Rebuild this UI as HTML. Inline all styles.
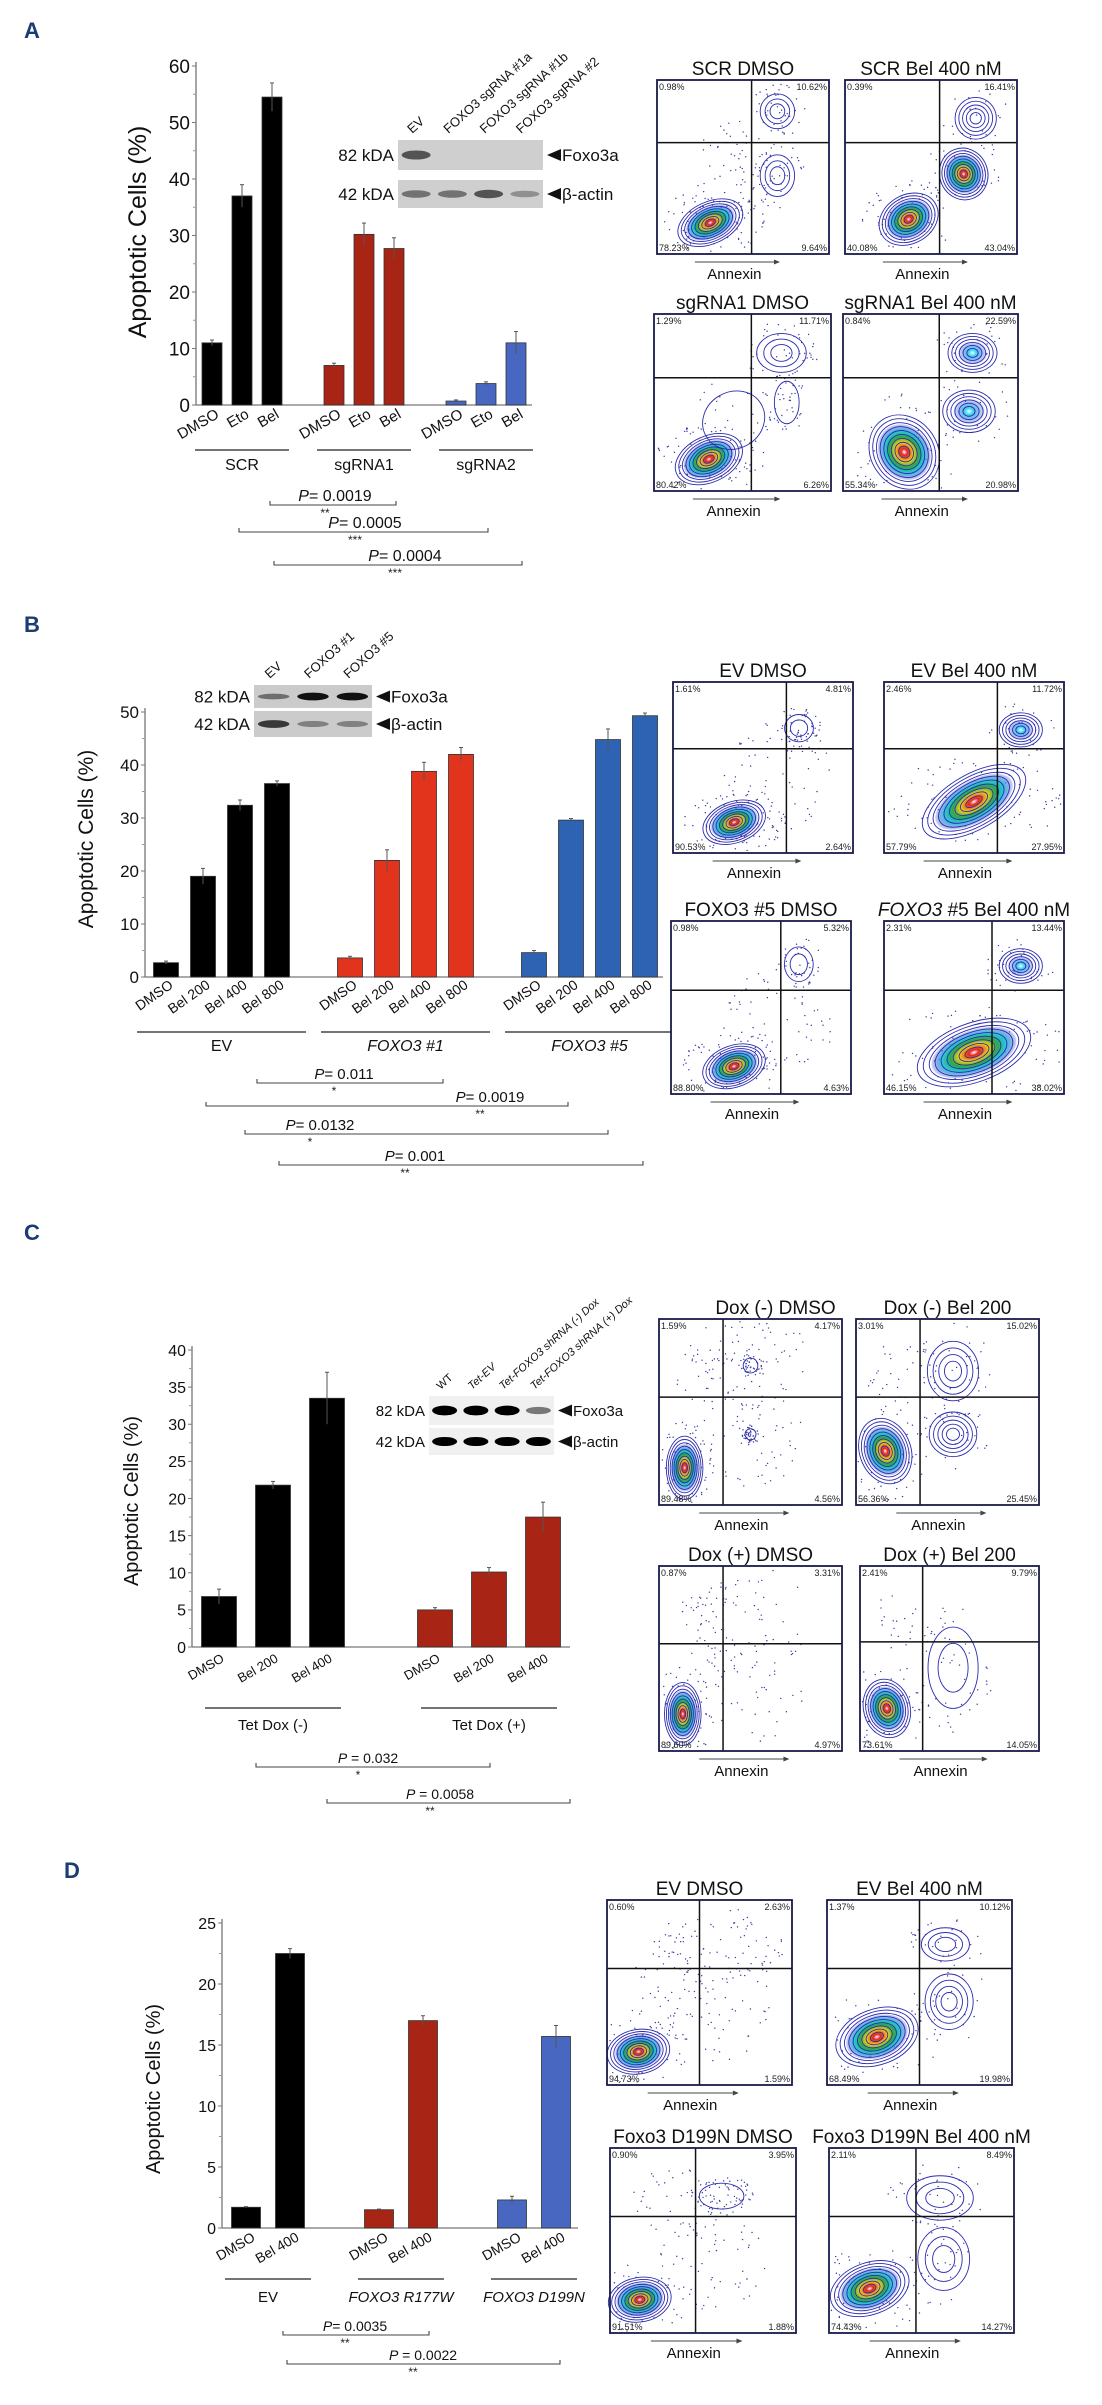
<!DOCTYPE html>
<html><head><meta charset="utf-8">
<style>
html,body{margin:0;padding:0;background:#fff;}
svg{display:block;font-family:"Liberation Sans",Arial,sans-serif;}
</style></head>
<body>
<svg id="fig" width="1102" height="2405" viewBox="0 0 1102 2405" xmlns="http://www.w3.org/2000/svg">
<defs>
<radialGradient id="heat">
<stop offset="0" stop-color="#ffffff"/>
<stop offset="0.12" stop-color="#e8201a"/>
<stop offset="0.35" stop-color="#f5d21a"/>
<stop offset="0.55" stop-color="#2aa84a"/>
<stop offset="0.75" stop-color="#2ac8e0"/>
<stop offset="1" stop-color="#3a3ad0" stop-opacity="0.2"/>
</radialGradient>
<radialGradient id="cool">
<stop offset="0" stop-color="#ffffff"/>
<stop offset="0.25" stop-color="#3ad8f0"/>
<stop offset="1" stop-color="#3a3ad0" stop-opacity="0.1"/>
</radialGradient>
</defs>
<g id="layer"></g>
</svg>
<script>
// ---------- DATA ----------
// Panel A
const aGroups = ["SCR","sgRNA1","sgRNA2"];
const aTreat = ["DMSO","Eto","Bel"];
const aVals = [[11,37,54.5],[7,30.2,27.7],[0.7,3.8,11]];
const aErrs = [[0.5,2,2.5],[0.4,2,1.9],[0.2,0.3,2]];
const aTicks = [0,10,20,30,40,50,60];
// Panel B
const bGroups = ["EV","FOXO3 #1","FOXO3 #5"];
const bTreat = ["DMSO","Bel 200","Bel 400","Bel 800"];
const bVals = [[2.7,19,32.4,36.5],[3.6,22,38.8,42],[4.6,29.6,44.8,49.3]];
const bErrs = [[0.3,1.5,1,0.5],[0.3,2,1.7,1.3],[0.4,0.3,2,0.5]];
const bTicks = [0,10,20,30,40,50];
// Panel C
const cGroups = ["Tet Dox (-)","Tet Dox (+)"];
const cTreat = ["DMSO","Bel 200","Bel 400"];
const cVals = [[6.8,21.8,33.5],[5,10.1,17.5]];
const cErrs = [[1,0.5,3.5],[0.3,0.6,2]];
const cTicks = [0,5,10,15,20,25,30,35,40];
// Panel D
const dGroups = ["EV","FOXO3 R177W","FOXO3 D199N"];
const dTreat = ["DMSO","Bel 400"];
const dVals = [[1.7,22.5],[1.5,17],[2.3,15.7]];
const dErrs = [[0.05,0.4],[0.05,0.4],[0.3,0.9]];
const dTicks = [0,5,10,15,20,25];

const NS="http://www.w3.org/2000/svg";
const layer=document.getElementById('layer');
function el(tag,attrs,parent,txt){const e=document.createElementNS(NS,tag);for(const k in attrs)e.setAttribute(k,attrs[k]);if(txt!==undefined)e.textContent=txt;(parent||layer).appendChild(e);return e;}

function barChart(o){
  const g=el('g',{});
  
  
  const yMax=o.ticks[o.ticks.length-1];
  const y=v=>o.y0-(v/yMax)*(o.y0-o.yTop);
  const x=(gi,i)=>o.first+gi*o.groupGap+i*o.barGap;
  el('line',{x1:o.ax,y1:o.yTop-4,x2:o.ax,y2:o.y0,stroke:'#777','stroke-width':1.3},g);
  el('line',{x1:o.ax,y1:o.y0,x2:o.axEnd,y2:o.y0,stroke:'#777','stroke-width':1.3},g);
  o.ticks.forEach((t,i)=>{
    el('line',{x1:o.ax-4,y1:y(t),x2:o.ax,y2:y(t),stroke:'#777'},g);
    if(i<o.ticks.length-1){const m=(t+o.ticks[i+1])/2;el('line',{x1:o.ax-3,y1:y(m),x2:o.ax,y2:y(m),stroke:'#999'},g);}
    const tl=el('text',{x:o.ax-6,y:y(t)+o.tickFs*0.36,'text-anchor':'end','font-size':o.tickFs,fill:'#111'},g,String(t));
    
    
  });
  const yl=el('text',{x:o.ylx,y:o.yly,'text-anchor':'middle','font-size':o.ylFs,fill:'#111',transform:`rotate(-90 ${o.ylx} ${o.yly})`},g,'Apoptotic Cells (%)');
  
  
  o.vals.forEach((row,gi)=>{
    row.forEach((v,i)=>{
      const cx=x(gi,i);
      const r=el('rect',{x:cx-o.bw/2,y:y(v),width:o.bw,height:o.y0-y(v),fill:o.colors[gi],stroke:'#333','stroke-width':0.8},g);
      
      
      const e=o.errs[gi][i];
      el('line',{x1:cx,y1:y(v+e),x2:cx,y2:y(v-e),stroke:'#555','stroke-width':1},g);
      el('line',{x1:cx-2,y1:y(v+e),x2:cx+2,y2:y(v+e),stroke:'#555','stroke-width':1},g);
      const tx=cx+o.lblDx, ty=o.y0+o.lblDy;
      const t=el('text',{x:tx,y:ty,'text-anchor':'end','font-size':o.lblFs,fill:'#111',transform:`rotate(${o.rot} ${tx} ${ty})`},g,o.treat[i]);
      
      
    });
    const gx1=x(gi,0)-o.lineExt, gx2=x(gi,row.length-1)+o.lineExt;
    el('line',{x1:gx1,y1:o.gLineY,x2:gx2,y2:o.gLineY,stroke:'#222','stroke-width':1.2},g);
    const gl=el('text',{x:(gx1+gx2)/2,y:o.gLabelY,'text-anchor':'middle','font-size':o.gFs,fill:'#111','font-style':o.italic&&o.italic[gi]?'italic':'normal'},g,o.groups[gi]);
    
    
  });
}

barChart({name:'chart-a',groups:aGroups,treat:aTreat,vals:aVals,errs:aErrs,ticks:aTicks,
  ax:196,axEnd:532,y0:405,yTop:66,first:212,barGap:30,groupGap:122,bw:20,
  colors:['#000','#a82414','#4867c0'],tickFs:19,ylFs:25,ylx:146,yly:232,
  lblDx:8,lblDy:12,lblFs:15,rot:-30,gLineY:450,gLabelY:470,gFs:16,lineExt:17});
barChart({name:'chart-b',groups:bGroups,treat:bTreat,vals:bVals,errs:bErrs,ticks:bTicks,italic:[0,1,1],
  ax:145,axEnd:663,y0:977,yTop:712,first:166,barGap:37,groupGap:184,bw:25,
  colors:['#000','#e2331c','#2e63b3'],tickFs:17,ylFs:21,ylx:93,yly:839,
  lblDx:8,lblDy:10,lblFs:14,rot:-35,gLineY:1032,gLabelY:1051,gFs:16,lineExt:29});
barChart({name:'chart-c',groups:cGroups,treat:cTreat,vals:cVals,errs:cErrs,ticks:cTicks,
  ax:192,axEnd:570,y0:1647,yTop:1350,first:219,barGap:54,groupGap:216,bw:35,
  colors:['#000','#a82414'],tickFs:16,ylFs:20,ylx:138,yly:1501,
  lblDx:6,lblDy:14,lblFs:13,rot:-30,gLineY:1708,gLabelY:1730,gFs:15,lineExt:14});
barChart({name:'chart-d',groups:dGroups,treat:dTreat,vals:dVals,errs:dErrs,ticks:dTicks,italic:[0,1,1],
  ax:222,axEnd:578,y0:2228,yTop:1923,first:246,barGap:44,groupGap:133,bw:29,
  colors:['#000','#a82414','#4867c0'],tickFs:16,ylFs:20,ylx:160,yly:2089,
  lblDx:10,lblDy:12,lblFs:14,rot:-30,gLineY:2279,gLabelY:2302,gFs:15,lineExt:21});

[['A',24,38],['B',24,632],['C',24,1240],['D',64,1878]].forEach(p=>{
  const t=el('text',{x:p[1],y:p[2],'font-size':22,'font-weight':'bold',fill:'#1b3d73'},layer,p[0]);
  
  
});

function bracket(x1,x2,y,txt,tx,star,fs){
  const g=el('g',{});
  
  
  el('path',{d:`M${x1} ${y-4} V${y} H${x2} V${y-4}`,fill:'none',stroke:'#444','stroke-width':1.1},g);
  const t=el('text',{x:tx,y:y-4,'text-anchor':'middle','font-size':fs,fill:'#111'},g);
  el('tspan',{'font-style':'italic'},t,'P');
  el('tspan',{},t,txt);
  el('text',{x:tx-10,y:y+12,'text-anchor':'middle','font-size':12,fill:'#222'},g,star);
}
bracket(270,396,505,'= 0.0019',335,'**',16);
bracket(239,488,532,'= 0.0005',365,'***',16);
bracket(274,522,565,'= 0.0004',405,'***',16);
bracket(257,443,1083,'= 0.011',344,'*',15);
bracket(206,568,1106,'= 0.0019',490,'**',15);
bracket(245,608,1134,'= 0.0132',320,'*',15);
bracket(279,643,1165,'= 0.001',415,'**',15);
bracket(256,490,1767,' = 0.032',368,'*',14);
bracket(327,570,1803,' = 0.0058',440,'**',14);
bracket(283,429,2335,'= 0.0035',355,'**',14);
bracket(287,560,2364,' = 0.0022',423,'**',14);

function blot(o){
  const g=el('g',{});
  
  
  const rows=[['82 kDA',o.y1,o.h1,o.b1,'Foxo3a'],['42 kDA',o.y2,o.h2,o.b2,'β-actin']];
  rows.forEach(r=>{
    el('rect',{x:o.x,y:r[1],width:o.w,height:r[2],fill:o.bg},g);
    const lw=o.w/r[3].length;
    r[3].forEach((s,i)=>{ if(s>0) el('ellipse',{cx:o.x+lw*(i+0.5),cy:r[1]+r[2]/2,rx:lw*0.4,ry:r[2]*0.14*(0.6+s*0.6),fill:o.band,opacity:s},g); });
    el('text',{x:o.x-4,y:r[1]+r[2]/2+o.fs*0.36,'text-anchor':'end','font-size':o.fs,fill:'#111'},g,r[0]);
    const ay=r[1]+r[2]/2, ax=o.x+o.w+4;
    el('path',{d:`M${ax} ${ay} L${ax+14} ${ay-6} L${ax+14} ${ay+6} Z`,fill:'#111'},g);
    el('text',{x:ax+15,y:ay+o.fs*0.36,'font-size':o.fs,fill:'#111'},g,r[4]);
  });
  o.lanes.forEach((l,i)=>{
    const lw=o.w/o.lanes.length, lx=o.x+lw*(i+0.5)-4, ly=o.y1-6;
    el('text',{x:lx,y:ly,'font-size':o.lfs,fill:'#111','font-style':l[1]?'italic':'normal',transform:`rotate(-42 ${lx} ${ly})`},g,l[0]);
  });
}
blot({name:'western-blot-a',x:398,w:145,y1:140,h1:30,y2:180,h2:28,b1:[0.8,0,0,0],b2:[0.6,0.6,0.8,0.4],bg:'#cfcfcf',band:'#333',fs:17,lfs:13,
  lanes:[['EV',0],['FOXO3 sgRNA #1a',0],['FOXO3 sgRNA #1b',0],['FOXO3 sgRNA #2',0]]});
blot({name:'western-blot-b',x:254,w:118,y1:685,h1:23,y2:711,h2:26,b1:[0.5,1,1],b2:[0.8,0.4,0.4],bg:'#cbcbcb',band:'#111',fs:17,lfs:13,
  lanes:[['EV',0],['FOXO3 #1',0],['FOXO3 #5',0]]});
blot({name:'western-blot-c',x:429,w:125,y1:1396,h1:29,y2:1428,h2:27,b1:[1,1,1,0.5],b2:[1,1,1,1],bg:'#f0f0f0',band:'#000',fs:15,lfs:11,
  lanes:[['WT',0],['Tet-EV',1],['Tet-FOXO3 shRNA (-) Dox',1],['Tet-FOXO3 shRNA (+) Dox',1]]});

let seed=7;function rnd(){seed=(seed*16807)%2147483647;return seed/2147483647;}
function flow(o){
  const g=el('g',{});
  
  
  const {x,y,w,h}=o;
  const t=el('text',{x:x+w/2+(o.tdx||0),y:y-5,'text-anchor':'middle','font-size':o.tfs||19,fill:'#111'},g);
  if(o.it){el('tspan',{'font-style':'italic'},t,o.it);}
  el('tspan',{},t,o.title);
  el('rect',{x:x,y:y,width:w,height:h,fill:'#fff'},g);
  o.blobs.forEach(b=>{for(let k=0;k<(b[6]||40);k++){const a=rnd()*6.283,r=Math.sqrt(rnd())*1.6;
    const px=x+w*(b[0]+Math.cos(a)*r*b[2]), py=y+h*(b[1]+Math.sin(a)*r*b[3]);
    if(px>x+2&&px<x+w-2&&py>y+2&&py<y+h-2) el('circle',{cx:px,cy:py,r:0.7,fill:'#3a3aa0'},g);}});
  o.blobs.forEach(b=>{
    if(b[5]<0) return;
    const cx=x+w*b[0], cy=y+h*b[1], rx=w*b[2], ry=h*b[3];
    const gg=el('g',{transform:`rotate(${b[4]} ${cx} ${cy})`},g);
    if(b[5]===2) el('ellipse',{cx:cx,cy:cy,rx:rx*0.75,ry:ry*0.75,fill:'url(#heat)'},gg);
    else if(b[5]===1) el('ellipse',{cx:cx,cy:cy,rx:rx*0.6,ry:ry*0.6,fill:'url(#cool)'},gg);
    const n=b[5]===2?9:(b[5]===1?6:(b[7]||3));
    for(let k=0;k<n;k++){const s=1-k/(n+0.5);el('ellipse',{cx:cx,cy:cy,rx:rx*s,ry:ry*s,fill:'none',stroke:'#2b2bb0','stroke-width':0.9},gg);}
  });
  el('line',{x1:x+w*o.vx,y1:y,x2:x+w*o.vx,y2:y+h,stroke:'#111','stroke-width':1.5},g);
  el('line',{x1:x,y1:y+h*o.hy,x2:x+w,y2:y+h*o.hy,stroke:'#111','stroke-width':1.5},g);
  el('rect',{x:x,y:y,width:w,height:h,fill:'none',stroke:'#1a1a4a','stroke-width':1.8},g);
  const p=o.p, fs=9;
  el('text',{x:x+2,y:y+10,'font-size':fs,fill:'#222'},g,p[0]);
  el('text',{x:x+w-2,y:y+10,'font-size':fs,'text-anchor':'end',fill:'#222'},g,p[1]);
  el('text',{x:x+2,y:y+h-3,'font-size':fs,fill:'#222'},g,p[2]);
  el('text',{x:x+w-2,y:y+h-3,'font-size':fs,'text-anchor':'end',fill:'#222'},g,p[3]);
  const ay=y+h+8;
  el('line',{x1:x+w*0.22,y1:ay,x2:x+w*0.68,y2:ay,stroke:'#444','stroke-width':1},g);
  el('path',{d:`M${x+w*0.68} ${ay-2.5} L${x+w*0.68+6} ${ay} L${x+w*0.68} ${ay+2.5}Z`,fill:'#444'},g);
  el('text',{x:x+w*0.45,y:ay+17,'text-anchor':'middle','font-size':15,fill:'#111'},g,'Annexin');
}
// blob: [cx,cy,rx,ry,rot,type(-1 dots only,0 contour,1 cool,2 heat),dots,rings]
flow({x:657,y:80,w:172,h:174,vx:0.55,hy:0.36,title:'SCR DMSO',p:['0.98%','10.62%','78.23%','9.64%'],
 blobs:[[0.31,0.82,0.2,0.12,-25,2,80],[0.7,0.18,0.1,0.1,0,0,40],[0.7,0.55,0.1,0.12,0,0,40],[0.45,0.55,0.15,0.2,0,-1,60]]});
flow({x:845,y:80,w:172,h:174,vx:0.55,hy:0.36,title:'SCR Bel 400 nM',p:['0.39%','16.41%','40.08%','43.04%'],
 blobs:[[0.37,0.8,0.18,0.14,-30,2,60],[0.69,0.54,0.14,0.15,-20,2,40],[0.76,0.22,0.12,0.12,0,0,20,5]]});
flow({x:654,y:314,w:177,h:177,vx:0.55,hy:0.36,title:'sgRNA1 DMSO',p:['1.29%','11.71%','80.42%','6.26%'],
 blobs:[[0.31,0.82,0.2,0.13,-25,2,80],[0.72,0.22,0.14,0.11,0,0,40],[0.75,0.5,0.07,0.12,0,0,40,1],[0.45,0.6,0.18,0.16,-30,0,30,1]]});
flow({x:843,y:314,w:175,h:177,vx:0.55,hy:0.36,title:'sgRNA1 Bel 400 nM',p:['0.84%','22.59%','55.34%','20.98%'],
 blobs:[[0.35,0.78,0.19,0.22,-35,2,60],[0.74,0.22,0.14,0.11,0,1,30],[0.72,0.55,0.15,0.12,0,1,30]]});
flow({x:673,y:682,w:180,h:171,vx:0.63,hy:0.39,title:'EV DMSO',p:['1.61%','4.81%','90.53%','2.64%'],
 blobs:[[0.34,0.82,0.18,0.12,-20,2,90],[0.7,0.27,0.08,0.08,0,0,50,2],[0.6,0.55,0.2,0.2,0,-1,60]]});
flow({x:884,y:682,w:180,h:171,vx:0.63,hy:0.39,title:'EV Bel 400 nM',p:['2.46%','11.72%','57.79%','27.95%'],
 blobs:[[0.5,0.7,0.32,0.16,-30,2,80],[0.76,0.28,0.12,0.1,0,1,30]]});
flow({x:671,y:921,w:180,h:173,vx:0.61,hy:0.4,title:'FOXO3 #5 DMSO',p:['0.98%','5.32%','88.80%','4.63%'],
 blobs:[[0.35,0.84,0.18,0.12,-20,2,90],[0.71,0.25,0.08,0.1,0,0,40,2],[0.6,0.55,0.2,0.2,0,-1,60]]});
flow({x:884,y:921,w:180,h:173,vx:0.6,hy:0.4,title:'#5 Bel 400 nM',it:'FOXO3 ',p:['2.31%','13.44%','46.15%','38.02%'],
 blobs:[[0.5,0.76,0.33,0.17,-20,2,80],[0.76,0.26,0.12,0.1,0,1,40]]});
flow({x:659,y:1319,w:183,h:186,vx:0.35,hy:0.42,title:'Dox (-) DMSO',tdx:25,p:['1.59%','4.17%','89.48%','4.56%'],
 blobs:[[0.14,0.8,0.1,0.17,0,2,60],[0.5,0.25,0.2,0.2,0,-1,70],[0.5,0.62,0.18,0.18,0,-1,60],[0.5,0.25,0.04,0.04,0,0,0,1],[0.5,0.62,0.03,0.03,0,0,0,1],[0.25,0.3,0.1,0.12,0,-1,30]]});
flow({x:856,y:1319,w:183,h:186,vx:0.35,hy:0.42,title:'Dox (-) Bel 200',p:['3.01%','15.02%','56.36%','25.45%'],
 blobs:[[0.16,0.71,0.14,0.18,-20,2,60],[0.53,0.28,0.14,0.16,0,0,40,4],[0.53,0.62,0.13,0.12,0,0,30,5],[0.25,0.3,0.12,0.12,0,-1,30]]});
flow({x:659,y:1566,w:183,h:185,vx:0.35,hy:0.42,title:'Dox (+) DMSO',p:['0.87%','3.31%','89.60%','4.97%'],
 blobs:[[0.13,0.8,0.1,0.17,0,2,60],[0.5,0.3,0.2,0.2,0,-1,70],[0.5,0.7,0.18,0.16,0,-1,40],[0.25,0.3,0.1,0.12,0,-1,30]]});
flow({x:860,y:1566,w:179,h:185,vx:0.35,hy:0.41,title:'Dox (+) Bel 200',p:['2.41%','9.79%','73.61%','14.05%'],
 blobs:[[0.15,0.77,0.13,0.16,-15,2,60],[0.52,0.55,0.14,0.22,0,0,40,2],[0.3,0.3,0.15,0.12,0,-1,30]]});
flow({x:607,y:1900,w:185,h:185,vx:0.5,hy:0.37,title:'EV DMSO',p:['0.60%','2.63%','94.73%','1.59%'],
 blobs:[[0.17,0.82,0.17,0.12,-10,2,60],[0.6,0.26,0.22,0.14,0,-1,80],[0.6,0.55,0.18,0.2,0,-1,60],[0.35,0.5,0.15,0.15,0,-1,40]]});
flow({x:827,y:1900,w:185,h:185,vx:0.5,hy:0.37,title:'EV Bel 400 nM',p:['1.37%','10.12%','68.49%','19.98%'],
 blobs:[[0.27,0.74,0.23,0.15,-20,2,60],[0.64,0.24,0.13,0.09,0,0,30],[0.66,0.55,0.13,0.15,0,0,30,4]]});
flow({x:610,y:2148,w:186,h:185,vx:0.46,hy:0.37,title:'Foxo3 D199N DMSO',p:['0.90%','3.95%','91.51%','1.88%'],
 blobs:[[0.16,0.82,0.17,0.12,-10,2,60],[0.6,0.26,0.12,0.07,0,0,70,1],[0.55,0.6,0.18,0.18,0,-1,60],[0.35,0.3,0.15,0.12,0,-1,40]]});
flow({x:829,y:2148,w:185,h:185,vx:0.47,hy:0.37,title:'Foxo3 D199N Bel 400 nM',p:['2.11%','8.49%','74.43%','14.27%'],
 blobs:[[0.22,0.76,0.22,0.14,-20,2,60],[0.6,0.27,0.18,0.12,0,0,40],[0.62,0.6,0.14,0.17,0,0,30]]});
</script>
</body></html>
